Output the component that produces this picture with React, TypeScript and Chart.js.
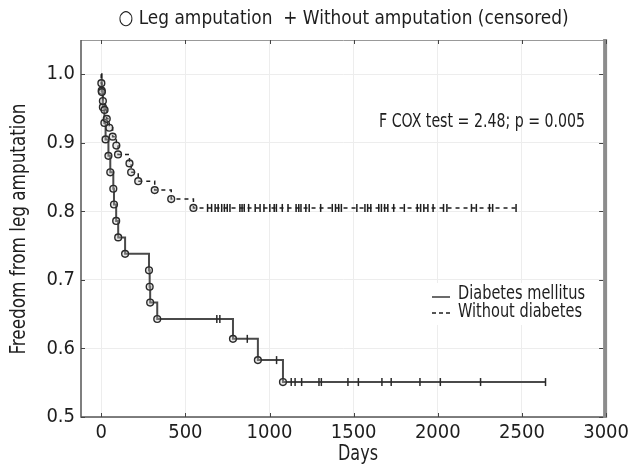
import React, { useEffect, useRef } from 'react';
import { Chart, registerables } from 'chart.js';

Chart.register(...registerables);

// ---------- data ----------
const xTickValues = [0, 500, 1000, 1500, 2000, 2500, 3000];
const yTickValues = [0.5, 0.6, 0.7, 0.8, 0.9, 1.0];

const diabetesEventDays = [0, 3, 10, 19, 26, 43, 54, 72, 76, 89, 101, 142, 284, 288, 291, 333, 783, 931, 1080];
const diabetesSurvival = [1.0, 0.976, 0.952, 0.929, 0.905, 0.881, 0.857, 0.833, 0.81, 0.786, 0.762, 0.738, 0.714, 0.69, 0.667, 0.643, 0.614, 0.583, 0.551];
const diabetesCensoredDays = [687, 705, 868, 1042, 1129, 1152, 1191, 1294, 1308, 1466, 1528, 1668, 1723, 1894, 2015, 2254, 2640];

const noDiabetesEventDays = [0, 1, 4, 10, 20, 33, 48, 68, 90, 100, 168, 178, 220, 318, 416, 548];
const noDiabetesSurvival = [1.0, 0.987, 0.974, 0.961, 0.948, 0.935, 0.922, 0.909, 0.896, 0.883, 0.87, 0.857, 0.844, 0.831, 0.818, 0.805];
const noDiabetesCensoredDays = [632, 656, 677, 695, 716, 732, 749, 765, 824, 837, 850, 876, 915, 944, 967, 1002, 1028, 1041, 1076, 1110, 1158, 1174, 1187, 1216, 1236, 1304, 1373, 1392, 1411, 1427, 1519, 1567, 1583, 1602, 1649, 1665, 1684, 1703, 1738, 1801, 1878, 1898, 1917, 1941, 1972, 2034, 2054, 2200, 2229, 2307, 2326, 2465];

const seriesLabels = ['Diabetes mellitus', 'Without diabetes'];
const topLegendText = '\u25CB Leg amputation  + Without amputation (censored)';
const coxText = 'F COX test = 2.48; p = 0.005';
const xTitle = 'Days';
const yTitle = 'Freedom from leg amputation';

// ---------- helpers ----------
const FONT_FAMILY = "'Liberation Sans Narrow', 'Arial Narrow', 'DejaVu Sans Condensed', sans-serif";
const TEXT_COLOR = '#1e1e1e';

function survivalAt(days: number[], surv: number[], t: number) {
  let v = surv[0];
  for (let i = 0; i < days.length; i++) if (days[i] <= t) v = surv[i];
  return v;
}

function stepLine(days: number[], surv: number[], censored: number[]) {
  const pts = days.map((d, i) => ({ x: d, y: surv[i] }));
  const end = censored[censored.length - 1];
  pts.push({ x: end, y: survivalAt(days, surv, end) });
  return pts;
}

function eventPoints(days: number[], surv: number[]) {
  return days.slice(1).map((d, i) => ({ x: d, y: surv[i + 1] }));
}

function censorPoints(days: number[], surv: number[], censored: number[]) {
  return censored.map((c) => ({ x: c, y: survivalAt(days, surv, c) }));
}

// draws text squeezed horizontally to a target width (condensed look)
function fitText(
  ctx: CanvasRenderingContext2D,
  text: string,
  x: number,
  y: number,
  size: number,
  width: number,
  align: CanvasTextAlign,
  rot = 0
) {
  ctx.save();
  ctx.font = `${size}px ${FONT_FAMILY}`;
  ctx.textAlign = align;
  ctx.textBaseline = 'middle';
  ctx.fillStyle = TEXT_COLOR;
  const w = ctx.measureText(text).width || 1;
  ctx.translate(x, y);
  if (rot) ctx.rotate(rot);
  ctx.scale(width / w, 1);
  ctx.fillText(text, 0, 0);
  ctx.restore();
}

const decorPlugin = {
  id: 'decor',
  beforeDraw(chart: any) {
    const { ctx, width, height } = chart;
    ctx.save();
    ctx.fillStyle = '#ffffff';
    ctx.fillRect(0, 0, width, height);
    ctx.restore();
  },
  afterDraw(chart: any) {
    const { ctx, chartArea } = chart;
    const { left, right, top, bottom } = chartArea;
    const xs = chart.scales.x;
    const ys = chart.scales.y;
    ctx.save();

    // frame
    ctx.strokeStyle = '#999999';
    ctx.lineWidth = 1;
    ctx.beginPath();
    ctx.moveTo(left, top + 0.5);
    ctx.lineTo(right, top + 0.5);
    ctx.stroke();
    ctx.strokeStyle = '#555555';
    ctx.lineWidth = 1.5;
    ctx.beginPath();
    ctx.moveTo(left, top);
    ctx.lineTo(left, bottom);
    ctx.lineTo(right, bottom);
    ctx.stroke();
    ctx.fillStyle = '#8c8c8c';
    ctx.fillRect(right - 3, top - 1, 4, bottom - top + 2);

    // inside tick marks
    ctx.strokeStyle = '#444444';
    ctx.lineWidth = 1;
    ctx.beginPath();
    xTickValues.forEach((v) => {
      const px = Math.round(xs.getPixelForValue(v)) + 0.5;
      ctx.moveTo(px, bottom);
      ctx.lineTo(px, bottom - 4);
      ctx.moveTo(px, top);
      ctx.lineTo(px, top + 4);
    });
    yTickValues.forEach((v) => {
      const py = Math.round(ys.getPixelForValue(v)) + 0.5;
      ctx.moveTo(left, py);
      ctx.lineTo(left + 4, py);
      ctx.moveTo(right - 3, py);
      ctx.lineTo(right - 7, py);
    });
    ctx.stroke();

    // titles
    fitText(ctx, topLegendText, (left + right) / 2, 19, 20, 450, 'center');
    fitText(ctx, xTitle, 358, 455, 21, 40, 'center');
    fitText(ctx, yTitle, 20, 229, 21, 251, 'center', -Math.PI / 2);

    // cox annotation
    fitText(ctx, coxText, 585, 122, 20, 206, 'right');

    // series legend box
    ctx.fillStyle = '#ffffff';
    ctx.fillRect(425, 283, 172, 42);
    ctx.strokeStyle = '#3a3a3a';
    ctx.lineWidth = 1.5;
    ctx.beginPath();
    ctx.moveTo(432, 297);
    ctx.lineTo(450, 297);
    ctx.stroke();
    ctx.setLineDash([4, 3]);
    ctx.strokeStyle = '#1e1e1e';
    ctx.beginPath();
    ctx.moveTo(432, 313);
    ctx.lineTo(451, 313);
    ctx.stroke();
    ctx.setLineDash([]);
    fitText(ctx, seriesLabels[0], 458, 294, 20, 127, 'left');
    fitText(ctx, seriesLabels[1], 458, 312, 20, 124, 'left');

    ctx.restore();
  },
};

export default function App() {
  const canvasRef = useRef<HTMLCanvasElement | null>(null);

  useEffect(() => {
    const canvas = canvasRef.current;
    if (!canvas) return;
    const tickFont = { family: FONT_FAMILY, size: 20 };

    const chart = new Chart(canvas, {
      type: 'scatter',
      data: {
        datasets: [
          {
            label: seriesLabels[0] + ' line',
            data: stepLine(diabetesEventDays, diabetesSurvival, diabetesCensoredDays),
            showLine: true,
            stepped: 'before',
            borderColor: '#4a4a4a',
            borderWidth: 2,
            pointRadius: 0,
            order: 5,
          },
          {
            label: seriesLabels[1] + ' line',
            data: stepLine(noDiabetesEventDays, noDiabetesSurvival, noDiabetesCensoredDays),
            showLine: true,
            stepped: 'before',
            borderColor: '#1e1e1e',
            borderWidth: 1.5,
            borderDash: [4, 4],
            pointRadius: 0,
            order: 4,
          },
          {
            label: seriesLabels[0] + ' events',
            data: eventPoints(diabetesEventDays, diabetesSurvival),
            pointStyle: 'circle',
            pointRadius: 3.4,
            pointBorderWidth: 1.4,
            pointBorderColor: '#2a2a2a',
            pointBackgroundColor: 'rgba(190,190,190,0.35)',
            order: 3,
          },
          {
            label: seriesLabels[1] + ' events',
            data: eventPoints(noDiabetesEventDays, noDiabetesSurvival),
            pointStyle: 'circle',
            pointRadius: 3.4,
            pointBorderWidth: 1.4,
            pointBorderColor: '#2a2a2a',
            pointBackgroundColor: 'rgba(190,190,190,0.35)',
            order: 2,
          },
          {
            label: seriesLabels[0] + ' censored',
            data: censorPoints(diabetesEventDays, diabetesSurvival, diabetesCensoredDays),
            pointStyle: 'line',
            rotation: 90,
            pointRadius: 4,
            pointBorderWidth: 1.5,
            pointBorderColor: '#2a2a2a',
            order: 1,
          },
          {
            label: seriesLabels[1] + ' censored',
            data: censorPoints(noDiabetesEventDays, noDiabetesSurvival, noDiabetesCensoredDays),
            pointStyle: 'line',
            rotation: 90,
            pointRadius: 4,
            pointBorderWidth: 1.5,
            pointBorderColor: '#1e1e1e',
            order: 0,
          },
        ],
      } as any,
      options: {
        animation: false,
        responsive: false,
        maintainAspectRatio: false,
        layout: { padding: { top: 40, right: 18, left: 0, bottom: 0 } },
        plugins: { legend: { display: false }, tooltip: { enabled: false } },
        scales: {
          x: {
            type: 'linear',
            min: -120,
            max: 3000,
            afterBuildTicks: (s: any) => {
              s.ticks = xTickValues.map((v) => ({ value: v }));
            },
            afterFit: (s: any) => {
              s.height = 49;
            },
            grid: { color: '#ededed', drawTicks: false, lineWidth: 1 },
            border: { display: false },
            ticks: {
              font: tickFont,
              color: TEXT_COLOR,
              padding: 4,
              maxRotation: 0,
              autoSkip: false,
              callback: (v: any) => String(v),
            },
            title: { display: false, text: xTitle },
          },
          y: {
            type: 'linear',
            min: 0.5,
            max: 1.05,
            afterBuildTicks: (s: any) => {
              s.ticks = yTickValues.map((v) => ({ value: v }));
            },
            afterFit: (s: any) => {
              s.width = 81;
            },
            grid: { color: '#ededed', drawTicks: false, lineWidth: 1 },
            border: { display: false },
            ticks: {
              font: tickFont,
              color: TEXT_COLOR,
              padding: 6,
              autoSkip: false,
              callback: (v: any) => Number(v).toFixed(1),
            },
            title: { display: false, text: yTitle },
          },
        },
      } as any,
      plugins: [decorPlugin],
    });
    return () => chart.destroy();
  }, []);

  return (
    <div style={{ position: 'fixed', left: 0, top: 0, width: 633, height: 466, background: '#fff' }}>
      <canvas ref={canvasRef} width={633} height={466} style={{ display: 'block', width: 633, height: 466 }} />
    </div>
  );
}
